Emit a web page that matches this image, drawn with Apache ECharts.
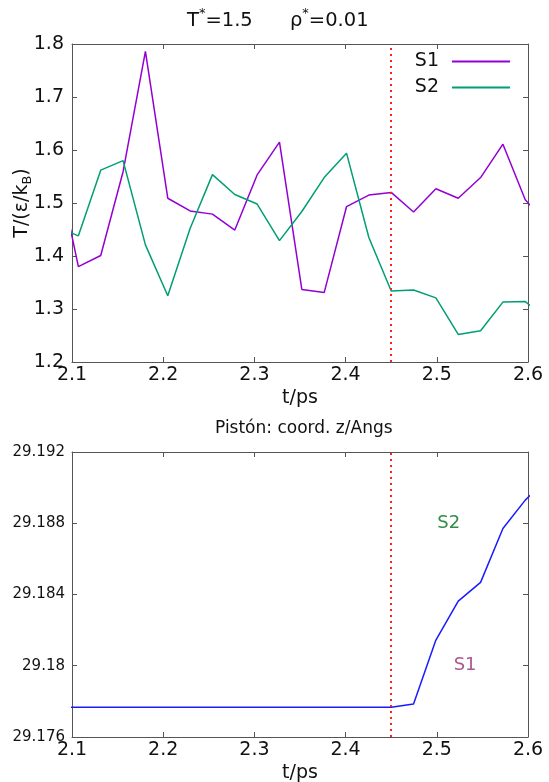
<!DOCTYPE html>
<html>
<head>
<meta charset="utf-8">
<script src="https://cdn.jsdelivr.net/npm/echarts@6/dist/echarts.min.js"></script>
<style>
html,body{margin:0;padding:0;background:#fff;}
#chart{width:549px;height:782px;}
</style>
</head>
<body>
<div id="chart"></div>
<script>
// ---- data ----
var times = [2.0825, 2.107, 2.1315, 2.156, 2.1805, 2.205, 2.2295, 2.254, 2.2785, 2.303, 2.3275, 2.352,
             2.3765, 2.401, 2.4255, 2.45, 2.4745, 2.499, 2.5235, 2.548, 2.5725, 2.597, 2.6215];
var s1Temp = [1.58, 1.380, 1.401, 1.559, 1.786, 1.509, 1.485, 1.479, 1.449, 1.553, 1.615, 1.337,
              1.331, 1.493, 1.515, 1.520, 1.483, 1.527, 1.509, 1.548, 1.611, 1.506, 1.46];
var s2Temp = [1.456, 1.438, 1.562, 1.580, 1.421, 1.325, 1.452, 1.5535, 1.516, 1.498, 1.429, 1.484,
              1.548, 1.594, 1.435, 1.334, 1.336, 1.321, 1.252, 1.259, 1.313, 1.314, 1.28];
var pistonZ = [29.17767, 29.17767, 29.17767, 29.17767, 29.17767, 29.17767, 29.17767, 29.17767,
               29.17767, 29.17767, 29.17767, 29.17767, 29.17767, 29.17767, 29.17767, 29.17767,
               29.17785, 29.18144, 29.18363, 29.18468, 29.18771, 29.1893, 29.1905];
var switchTime = 2.45;
var labelTexts = ['S2', 'S1'];
var labelTimes = [2.513, 2.531];
var labelValues = [29.188, 29.180];
var xTicks = ['2.1', '2.2', '2.3', '2.4', '2.5', '2.6'];
var yTicksTop = ['1.2', '1.3', '1.4', '1.5', '1.6', '1.7', '1.8'];
var yTicksBottom = ['29.176', '29.18', '29.184', '29.188', '29.192'];

function pairs(xs, ys) { return xs.map(function (x, i) { return [x, ys[i]]; }); }

var FONT = 'DejaVu Sans';
var frameColor = '#555';
var S1C = '#9400d3', S2C = '#009e73';

function xAxisMain(grid, name) {
  return {
    type: 'value', gridIndex: grid, min: 2.1, max: 2.6, interval: 0.1, position: 'bottom',
    name: name, nameLocation: 'middle', nameGap: 27,
    nameTextStyle: { fontFamily: FONT, fontSize: 19, color: '#111' },
    axisLine: { show: true, onZero: false, lineStyle: { color: frameColor, width: 1 } },
    axisTick: { show: true, inside: true, length: 5, lineStyle: { color: frameColor } },
    axisLabel: { fontFamily: FONT, fontSize: 19, color: '#111', margin: 4,
                 formatter: function (v) { return xTicks[Math.round((v - 2.1) / 0.1)]; } },
    splitLine: { show: false }
  };
}
function xAxisMirror(grid) {
  return {
    type: 'value', gridIndex: grid, min: 2.1, max: 2.6, interval: 0.1, position: 'top',
    axisLine: { show: true, onZero: false, lineStyle: { color: frameColor, width: 1 } },
    axisTick: { show: true, inside: true, length: 5, lineStyle: { color: frameColor } },
    axisLabel: { show: false }, splitLine: { show: false }
  };
}

var option = {
  animation: false,
  backgroundColor: '#fff',
  textStyle: { fontFamily: FONT },
  title: [
    {
      text: 'T{sup|*}=1.5      ρ{sup|*}=0.01',
      left: 182, top: 2,
      textStyle: {
        fontFamily: FONT, fontSize: 19.5, fontWeight: 'normal', color: '#111', lineHeight: 27,
        rich: { sup: { fontFamily: FONT, fontSize: 13, lineHeight: 13, verticalAlign: 'top', color: '#111' } }
      }
    },
    {
      text: 'Pistón: coord. z/Angs',
      left: 210, top: 415,
      textStyle: { fontFamily: FONT, fontSize: 17, fontWeight: 'normal', color: '#111' }
    }
  ],
  legend: {
    data: ['S1', 'S2'],
    orient: 'vertical', right: 39, top: 52, align: 'right', padding: 0,
    icon: 'rect', itemWidth: 58, itemHeight: 2, itemGap: 7,
    textStyle: { fontFamily: FONT, fontSize: 19, color: '#111', lineHeight: 19, padding: [0, 8, 0, 0] }
  },
  grid: [
    { left: 72, right: 21, top: 44, height: 318, outerBoundsMode: 'none', containLabel: false },
    { left: 72, right: 21, top: 452, height: 285, outerBoundsMode: 'none', containLabel: false }
  ],
  xAxis: [xAxisMain(0, 't/ps'), xAxisMirror(0), xAxisMain(1, 't/ps'), xAxisMirror(1)],
  yAxis: [
    {
      type: 'value', gridIndex: 0, min: 1.2, max: 1.8, interval: 0.1, position: 'left',
      name: 'T/(ε/k{sub|B})', nameLocation: 'middle', nameGap: 38, nameMoveOverlap: false,
      nameTextStyle: {
        fontFamily: FONT, fontSize: 19, color: '#111', lineHeight: 24,
        rich: { sub: { fontFamily: FONT, fontSize: 13, lineHeight: 13, verticalAlign: 'bottom', color: '#111' } }
      },
      axisLine: { show: true, onZero: false, lineStyle: { color: frameColor } },
      axisTick: { show: true, inside: true, length: 5, lineStyle: { color: frameColor } },
      axisLabel: { fontFamily: FONT, fontSize: 19, color: '#111', margin: 8,
                   formatter: function (v) { return yTicksTop[Math.round((v - 1.2) / 0.1)]; } },
      splitLine: { show: false }
    },
    {
      type: 'value', gridIndex: 0, min: 1.2, max: 1.8, interval: 0.1, position: 'right',
      axisLine: { show: true, onZero: false, lineStyle: { color: frameColor } },
      axisTick: { show: true, inside: true, length: 5, lineStyle: { color: frameColor } },
      axisLabel: { show: false }, splitLine: { show: false }
    },
    {
      type: 'value', gridIndex: 1, min: 29.176, max: 29.192, interval: 0.004, position: 'left',
      axisLine: { show: true, onZero: false, lineStyle: { color: frameColor } },
      axisTick: { show: true, inside: true, length: 5, lineStyle: { color: frameColor } },
      axisLabel: { fontFamily: FONT, fontSize: 15, color: '#111', margin: 7,
                   formatter: function (v) { return yTicksBottom[Math.round((v - 29.176) / 0.004)]; } },
      splitLine: { show: false }
    },
    {
      type: 'value', gridIndex: 1, min: 29.176, max: 29.192, interval: 0.004, position: 'right',
      axisLine: { show: true, onZero: false, lineStyle: { color: frameColor } },
      axisTick: { show: true, inside: true, length: 5, lineStyle: { color: frameColor } },
      axisLabel: { show: false }, splitLine: { show: false }
    }
  ],
  series: [
    {
      name: 'S1', type: 'line', xAxisIndex: 0, yAxisIndex: 0, data: pairs(times, s1Temp),
      showSymbol: false, clip: true, lineStyle: { color: S1C, width: 1.5 }, itemStyle: { color: S1C },
      markLine: {
        silent: true, symbol: 'none', label: { show: false },
        lineStyle: { color: '#ff2020', width: 2, type: [2, 4] },
        data: [{ xAxis: switchTime }]
      }
    },
    {
      name: 'S2', type: 'line', xAxisIndex: 0, yAxisIndex: 0, data: pairs(times, s2Temp),
      showSymbol: false, clip: true, lineStyle: { color: S2C, width: 1.5 }, itemStyle: { color: S2C }
    },
    {
      name: 'z', type: 'line', xAxisIndex: 2, yAxisIndex: 2, data: pairs(times, pistonZ),
      showSymbol: false, clip: true, lineStyle: { color: '#1a1aff', width: 1.5 }, itemStyle: { color: '#1a1aff' },
      markLine: {
        silent: true, symbol: 'none', label: { show: false },
        lineStyle: { color: '#ff2020', width: 2, type: [2, 4] },
        data: [{ xAxis: switchTime }]
      }
    },
    {
      name: 'labels', type: 'scatter', xAxisIndex: 2, yAxisIndex: 2, symbolSize: 0,
      data: labelTexts.map(function (t, i) {
        return {
          value: [labelTimes[i], labelValues[i]],
          label: {
            show: true, position: 'inside', formatter: t, fontFamily: FONT, fontSize: 18,
            color: t === 'S2' ? '#006e1a' : '#952d72'
          }
        };
      })
    }
  ]
};

var chart = echarts.init(document.getElementById('chart'), null, { renderer: 'canvas' });
chart.setOption(option);
</script>
</body>
</html>
